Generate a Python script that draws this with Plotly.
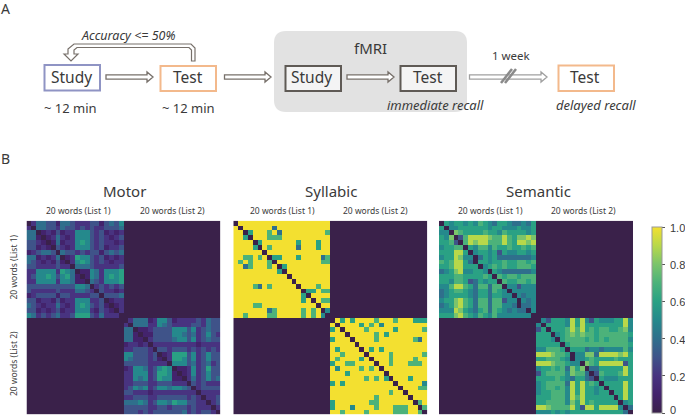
import plotly.graph_objects as go

W, H = 685, 416

motor_list1 = [
"02443314432223313435","20443324332323223334","44012131225553231212","44101242125553232123",
"33210141225653232212","33121032125553231223","12344304332323313434","44121240126553231212",
"43212131025653232122","33222232204443222223","22555526540115425556","23556535641015425656",
"22555525541104325556","33333333335540232323","32222232224432032212","12333313322223303334",
"33122131225552230122","43212242125653231012","33121231225552132102","54232342236663242220"]
motor_list2 = [
"02444125531222232433","20444225432222332433","44011233335553523433","44101133335543423532",
"44110233334553523433","12212022222222212222","22333203323332323232","55333230126663523533",
"54333231026653523533","33333222205553423423","12554235650112523633","22555236651012523533",
"22545236551102423534","22333223332220323222","23545235545543023333","33222122222222202222",
"22333223333332320223","44454235546553322023","33333223323332322202","33323233333342323320"]
syllabic_list1 = [
"0aaaaaaaaaaaaaaaaaaa","a0aaaaaa4aaaaaaaaaaa","aa06aaa7a4aaaaaaaaa7","aa60aaa777aaaaaaaaaa",
"aaaa06aaaaaaa6aaa6aa","aaaa60a7aaaaa4aaa6aa","aaaaaa0aaaaaaaaaaaaa","aa77a7a066aaa6aaaa47",
"a7a7aaa70aaaaaaaaa77","aa47aaa7a06aaaaaaaaa","aaaaaaaaa60aaaaaaaaa","aaaaaaaaaaa0aaaaaaaa",
"aaaaaaaaaaaa0aaaaaaa","aaaa74a7aaaaa0aaa7aa","aaaaaaaaaaaaaa066a77","aaaaaaaaaaaaaa60aaaa",
"aaaaaaaaaaaaaa6a0a77","aaaa77aaaaaaaaaaa0aa","aaaaaaa47aaaaa7a7a05","aa7aaaa77aaaaa7a7a50"]
syllabic_list2 = [
"0a6a6aaaa7aaa7aaa666","a0aaaa6a7a5aaaaaaaaa","6a0aaaa7aaaaa6aaaaa7","aaa0aaaaa7a6aaaaaaaa",
"6aaa0aaaa7aaaaaaa74a","aaaaa0aaaaaaaaaaaaaa","a6aaaa0a6a6aaaaaaaaa","aa7aaaa0aaaa7aaaaaa7",
"a7aaaa6a0aaa7aaaa7aa","6aa77aaaa0aa7aaa777a","a5aaaa7a7a0aaaaaaaaa","aaa6aaaaaaa0aaaaaaaa",
"aaaaaaa7a7a60aaa6aaa","6a6aaaaaaaaaa0aaaaa5","aaaaaaaaaaaaaa0aaa77","aaaaaaaaaaaa7aa0aaaa",
"aaaaaaaaa7aaaaaa0aaa","6aaaaaaa77aaaaaaa07a","6aaa5aaaa7aaa777aa07","aa7aaaa7aaaaa777aa70"]
semantic_list1 = [
"06566565765466544546","60556666665665556556","55087666676657666656","65803799998779768898",
"66730798997779769989","56677065775766766767","66699605665636556656","56698550465644444445",
"76799640665667667767","66799666056767667776","45689556650654444445","66677666676076776777",
"66577634656607667767","55799764774770553555","45677654664765055555","45666654664665505455",
"56689764774773550545","45689764774775540445","55598654674765454405","66689765765755555550"]
semantic_list2 = [
"05366659695365556695","50666659696666666695","36066679796767766785","66605678787767777776",
"66650677776767677775","66666067777777777776","55777606664554555575","99987760558849999896",
"66777650556766667666","99987765508769999936","56676748680446666696","36777758774037666796",
"66667654664306555666","56777749696760666696","56776759696656066696","56677759696656606696",
"66677759796666660696","66777758696766666056","99877779639969999504","55565656666666666640"]

categories = ["Motor", "Syllabic", "Semantic"]
word_label_1 = "20 words (List 1)"
word_label_2 = "20 words (List 2)"
colorbar_ticks = [0, 0.2, 0.4, 0.6, 0.8, 1.0]
colorbar_labels = ["0", "0.2", "0.4", "0.6", "0.8", "1.0"]


def block(rows):
    return [[int(c, 16) / 10 for c in r] for r in rows]


def matrix(a, b):
    a, b = block(a), block(b)
    return [r + [0] * 20 for r in a] + [[0] * 20 + r for r in b]


matrices = [matrix(motor_list1, motor_list2),
            matrix(syllabic_list1, syllabic_list2),
            matrix(semantic_list1, semantic_list2)]

SCALE = [[0.0, "#3a214a"], [0.1, "#43236c"], [0.2, "#483380"], [0.3, "#3f5389"],
         [0.4, "#2f6f8c"], [0.5, "#25898c"], [0.6, "#2aa184"], [0.7, "#4cb27a"],
         [0.8, "#7bc46b"], [0.9, "#b8d84a"], [1.0, "#f3e030"]]

TXT = "#3a3a3a"
FONT = "Noto Sans"


def px(x): return x / W
def py(y): return 1 - y / H


fig = go.Figure()
panels = [(26.5, 220.3), (233.3, 427.3), (439, 633)]
top, bottom = 220.7, 414.3
for i, (name, z, (x0, x1)) in enumerate(zip(categories, matrices, panels)):
    s = "" if i == 0 else str(i + 1)
    fig.add_trace(go.Heatmap(z=z, coloraxis="coloraxis", xaxis="x" + s, yaxis="y" + s,
                             xgap=0, ygap=0, hoverinfo="skip"))
    fig.update_layout({
        "xaxis" + s: dict(domain=[px(x0), px(x1)], visible=False, anchor="y" + s),
        "yaxis" + s: dict(domain=[py(bottom), py(top)], visible=False, autorange="reversed", anchor="x" + s),
    })

CB_TOP, CB_BOTTOM = 227, 413
fig.update_layout(
    width=W, height=H, autosize=False, margin=dict(l=0, r=0, t=0, b=0),
    paper_bgcolor="white", plot_bgcolor="white", showlegend=False,
    coloraxis=dict(
        colorscale=SCALE, cmin=0, cmax=1,
        colorbar=dict(x=px(652.3), xanchor="left", xref="paper", y=py(CB_BOTTOM), yanchor="bottom", yref="paper",
                      len=(CB_BOTTOM - CB_TOP) / H, lenmode="fraction", thickness=9.5, thicknessmode="pixels",
                      tickvals=colorbar_ticks, showticklabels=False,
                      ticks="outside", ticklen=3,
                      tickcolor="#555", tickwidth=1, outlinecolor="#999", outlinewidth=1, xpad=0, ypad=0)),
)


def text(x, y, s, size, italic=False, rot=0, family=FONT, anchor="center"):
    fig.add_annotation(x=px(x), y=py(y), xref="paper", yref="paper", text=s, showarrow=False,
                       xanchor=anchor, yanchor="middle", textangle=rot,
                       font=dict(family=family, size=size, color=TXT,
                                 style="italic" if italic else "normal"))


def box(x0, y0, x1, y1, color, width=2, fill="white"):
    fig.add_shape(type="rect", xref="paper", yref="paper", x0=px(x0), x1=px(x1), y0=py(y0), y1=py(y1),
                  line=dict(color=color, width=width), fillcolor=fill, layer="above")


def path(pts, color="#77706a", width=1, fill="white", close=True):
    d = "M " + " L ".join(f"{px(a):.5f},{py(b):.5f}" for a, b in pts) + (" Z" if close else "")
    fig.add_shape(type="path", xref="paper", yref="paper", path=d, line=dict(color=color, width=width),
                  fillcolor=fill if close else None, layer="above")


def arrow(x0, x1, y, color="#77706a"):
    path([(x0, y - 2.2), (x1 - 6, y - 2.2), (x1 - 6, y - 5), (x1, y), (x1 - 6, y + 5),
          (x1 - 6, y + 2.2), (x0, y + 2.2)], color=color, width=1.3)


# panel A
GL, GR = 274, 467
fig.add_shape(type="path", xref="paper", yref="paper", layer="below", line=dict(width=0), fillcolor="#e2e2e2",
              path="M {} {} ".format(px(GL + 12), py(31)) +
                   "L {} {} Q {} {} {} {} ".format(px(GR - 12), py(31), px(GR), py(31), px(GR), py(43)) +
                   "L {} {} Q {} {} {} {} ".format(px(GR), py(100), px(GR), py(112), px(GR - 12), py(112)) +
                   "L {} {} Q {} {} {} {} ".format(px(GL + 12), py(112), px(GL), py(112), px(GL), py(100)) +
                   "L {} {} Q {} {} {} {} Z".format(px(GL), py(43), px(GL), py(31), px(GL + 12), py(31)))

STUDY, TEST, DARK = "#8f94c4", "#f3b98c", "#5f5a55"
box(44.5, 65, 100, 90.5, STUDY)
box(160.5, 66, 216, 91, TEST)
box(285.5, 66, 341, 91, DARK, fill="#f4f4f4")
box(400.5, 66, 456, 91, DARK, fill="#f4f4f4")
box(558.5, 65.5, 614, 91, TEST)
for x, s in [(71.5, "Study"), (188, "Test"), (311, "Study"), (428, "Test"), (585, "Test")]:
    text(x, 77.5, s, 15.5)

arrow(106, 153, 77)
arrow(224.5, 271, 77)
arrow(347, 394, 77)
arrow(469.5, 547, 77, color="#a0a0a0")
for dx in (-2, 2):
    path([(503 + dx, 83), (514 + dx, 69)], color="#8a8a8a", width=2.5, close=False)

# loop arrow
path([(195, 61), (195, 48), (191, 44), (74, 44), (68, 49), (68, 54), (64, 54), (71, 61), (78, 54),
      (74, 54), (74, 50), (77, 47.5), (189, 47.5), (191.5, 50), (191.5, 61)],
     color="#77706a", width=1.2)

text(128, 35, "Accuracy <= 50%", 12.5, italic=True)
text(370, 48, "fMRI", 15)
text(70.5, 108, "~ 12 min", 13)
text(188, 108, "~ 12 min", 13)
text(435, 105, "immediate recall", 13, italic=True)
text(595.5, 105, "delayed recall", 13, italic=True)
text(512, 56, "1 week", 11.5)
text(5.5, 8, "A", 14)
text(5.5, 158, "B", 14)

# panel B titles and labels
for name, mid, cx1, cx2 in zip(categories, (124.5, 330.5, 538), (78, 282, 490), (172, 375, 583)):
    text(mid, 191, name, 15)
    text(cx1, 210, word_label_1, 8.5)
    text(cx2, 210, word_label_2, 8.5)
text(13, 267.5, word_label_1, 8.5, rot=-90)
text(13, 364, word_label_2, 8.5, rot=-90)

# colorbar labels placed from the tick values (bottom label sits slightly higher so it is not clipped)
for v, lab in zip(colorbar_ticks, colorbar_labels):
    y = CB_BOTTOM - v * (CB_BOTTOM - CB_TOP)
    text(667.5, (y - 3) if v == 0 else (y + 1), lab, 11, family="Liberation Sans", anchor="left")

fig.write_html("out.html", config={"displayModeBar": False},
               post_script="document.body.style.margin='0';")
